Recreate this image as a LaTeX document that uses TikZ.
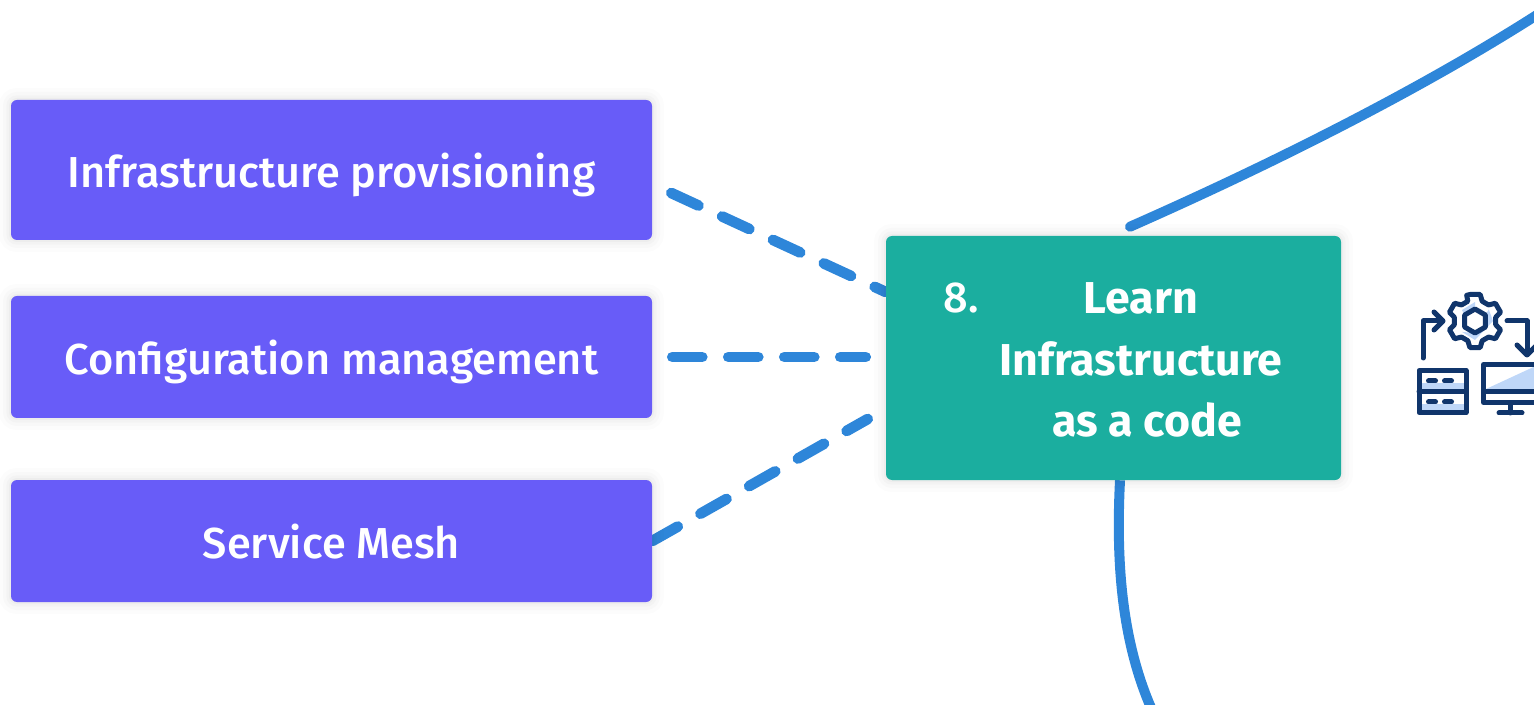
\documentclass[tikz,border=0pt]{standalone}
\usepackage{fontspec}
\setmainfont{Fira Sans Medium}
\newfontfamily\boldface{Fira Sans}[UprightFont=*,BoldFont=* Bold]
\usetikzlibrary{calc,backgrounds}
\definecolor{purplebox}{HTML}{685CF8}
\definecolor{greenbox}{HTML}{1BAE9F}
\definecolor{linkblue}{HTML}{2E86D9}
\definecolor{icondark}{HTML}{10356B}
\definecolor{iconlight}{HTML}{BFD7F8}
\tikzset{
  softshadow/.style={
    preaction={draw=black,draw opacity=.012,line width=18pt,yshift=-3pt},
    preaction={draw=black,draw opacity=.016,line width=12pt,yshift=-3pt},
    preaction={draw=black,draw opacity=.02,line width=7pt,yshift=-3pt},
    preaction={draw=black,draw opacity=.025,line width=3pt,yshift=-3pt}},
  card/.style={softshadow,fill=#1,rounded corners=4.5pt,inner sep=0pt,text=white,
    font=\fontsize{32.5}{36}\selectfont,minimum width=480.75pt,text height=27pt,text depth=0pt},
  dashlink/.style={draw=linkblue,line width=8pt,line cap=round,dash pattern=on 22.5pt off 19.5pt},
  solidlink/.style={draw=linkblue,line width=7.5pt,line cap=round},
  greentext/.style={text=white,inner sep=0pt,font=\fontsize{33.5}{36}\selectfont\boldface\bfseries},
  iconline/.style={draw=icondark,line width=3.75pt,line join=round,line cap=round}
}
\begin{document}
\begin{tikzpicture}[x=.75pt,y=-.75pt]
\useasboundingbox (0,0) rectangle (1534,705);
\clip (0,0) rectangle (1534,705);
\node[card=purplebox,minimum height=105pt] (infra) at (331.5,170) {Infrastructure provisioning};
\node[card=purplebox,minimum height=91.5pt] (config) at (331.5,357) {Configuration management};
\node[card=purplebox,minimum height=91.5pt,text height=26pt] (mesh) at (331.5,541) {Service Mesh};
\node[softshadow,fill=greenbox,rounded corners=4.5pt,inner sep=0pt,minimum width=341.25pt,minimum height=183pt] (iac) at (1113.5,358) {};
\node[inner sep=0pt,text=white,font=\fontsize{32.5}{36}\selectfont] (num) at (961,298) {8.};
\node[greentext] (t1) at (1141,298) {Learn};
\node[greentext] (t2) at (1141,359) {Infrastructure};
\node[greentext] (t3) at (1147,420) {as a code};
\coordinate (topend) at (1540,13);
\coordinate (botend) at (1152,710);
\begin{scope}[on background layer]
\draw[dashlink] ($(infra.east)+(19,23)$) -- ($(iac.west)+(0,-66)$);
\draw[dashlink] ($(config.east)+(20,0)$) -- ($(iac.west)+(-20,-1)$);
\draw[dashlink,dash phase=4.3pt] ($(iac.west)+(-18,61)$) -- (mesh.east);
\draw[solidlink] ($(iac.north)+(16.5,-9)$) .. controls (1270,165) and (1420,90) .. (topend);
\draw[solidlink,line cap=butt] ($(iac.south)+(6.5,0)$) .. controls (1116,560) and (1121,640) .. (botend);
\end{scope}
% icon
\def\gcx{1475}\def\gcy{321}
\draw[iconline,fill=white] ([shift={(\gcx,\gcy)}]-108:27)
  \foreach \a in {-90,-30,30,90,150,210}{
    -- ([shift={(\gcx,\gcy)}]\a-11:27) -- ([shift={(\gcx,\gcy)}]\a+11:27)
    -- ([shift={(\gcx,\gcy)}]\a+20:21) -- ([shift={(\gcx,\gcy)}]\a+40:21)
  } -- cycle;
\path[fill=iconlight] ([shift={(\gcx,\gcy)}]-40:18) -- ([shift={(\gcx,\gcy)}]0:18) -- ([shift={(\gcx,\gcy)}]90:19) -- ([shift={(\gcx,\gcy)}]140:17) -- ([shift={(\gcx,\gcy)}]90:12) -- ([shift={(\gcx,\gcy)}]30:12) -- ([shift={(\gcx,\gcy)}]-30:12) -- cycle;
\path[fill=iconlight] ([shift={(\gcx,\gcy)}]-140:17) -- ([shift={(\gcx,\gcy)}]-90:19) -- ([shift={(\gcx,\gcy)}]-90:12) -- ([shift={(\gcx,\gcy)}]-150:12) -- cycle;
\draw[iconline,fill=white] ([shift={(\gcx,\gcy)}]-90:12)--([shift={(\gcx,\gcy)}]-30:12)--([shift={(\gcx,\gcy)}]30:12)--([shift={(\gcx,\gcy)}]90:12)--([shift={(\gcx,\gcy)}]150:12)--([shift={(\gcx,\gcy)}]210:12)--cycle;
\draw[iconline] (1423,358) -- (1423,321) -- (1442,321);
\draw[iconline] (1434,312) -- (1443,321) -- (1434,330);
\draw[iconline] (1507,321) -- (1527,321) -- (1527,354);
\draw[iconline] (1517,345) -- (1527,355) -- (1537,345);
\fill[iconlight] (1419,383) rectangle (1466,392);
\fill[iconlight] (1419,404) rectangle (1466,412.5);
\draw[iconline] (1419,370.5) rectangle (1466,412.5);
\draw[iconline] (1419,391.5) -- (1466,391.5);
\draw[iconline] (1428.5,381) -- (1435.5,381) (1444.5,381) -- (1451.5,381);
\draw[iconline] (1428.5,402) -- (1435.5,402) (1444.5,402) -- (1451.5,402);
\fill[iconlight] (1486,389) -- (1540,364) -- (1540,389) -- cycle;
\draw[iconline] (1483.5,364.5) rectangle (1545,402.5);
\draw[iconline] (1483.5,391.5) -- (1545,391.5);
\draw[iconline] (1510,403) -- (1510,413);
\draw[iconline] (1499,413) -- (1522,413);
\end{tikzpicture}
\end{document}
